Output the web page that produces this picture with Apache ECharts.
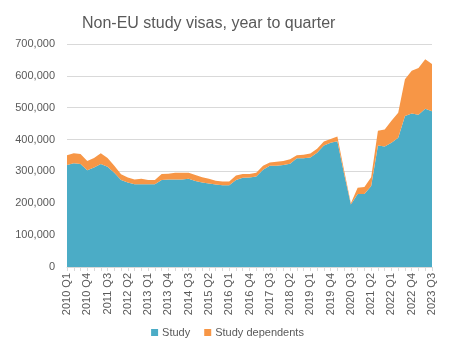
<!DOCTYPE html>
<html>
<head>
<meta charset="utf-8">
<script src="https://cdn.jsdelivr.net/npm/echarts@6/dist/echarts.min.js"></script>
<style>
html,body{margin:0;padding:0;background:#fff;}
#chart_area{width:455px;height:351px;}
</style>
</head>
<body>
<div id="chart_area"></div>
<script>
//季度标签 2010 Q1 - 2023 Q3
var quarters = [];
for (var y = 2010; y <= 2023; y++) {
	for (var q = 1; q <= 4; q++) {
		if (y == 2023 && q > 3) break;
		quarters.push(y + ' Q' + q);
	}
}

var study_vals = [
	320000,326000,323000,304000,312000,323000,315000,296000,273000,265000,
	260000,260000,260000,260000,273000,275000,275000,275000,277000,270000,
	265000,262000,259000,257000,257000,273000,280000,281000,284000,305000,
	318000,318000,320000,324000,341000,341000,344000,359000,381000,390000,
	395000,292000,196000,229000,229000,254000,381000,378000,390000,406000,
	474000,482000,478000,497000,489000
];
var dependent_vals = [
	31000,31000,32000,29000,30000,34000,27000,22000,18000,16000,
	15000,17000,13000,13000,19000,18000,21000,21000,19000,19000,
	17000,15000,12000,11000,11000,14000,12000,11000,12000,13000,
	10000,12000,13000,14000,10000,11000,12000,12000,13000,12000,
	15000,11000,4000,20000,22000,28000,47000,54000,69000,78000,
	115000,134000,147000,155000,148000
];
var series_names = ['Study','Study dependents'];

function creatChart_area(){
	var myChart = echarts.init(document.getElementById("chart_area"));
	var option = {
		animation:false,
		color:['#4bacc6','#f79646'],
		title:{
			text:'Non-EU study visas, year to quarter',
			left:77,
			top:11,
			textStyle:{
				fontFamily:'Liberation Sans',
				fontSize:16,
				fontWeight:'normal',
				color:'#595959'
			}
		},
		legend:{
			bottom:8,
			left:'center',
			itemWidth:7,
			itemHeight:7,
			itemGap:14,
			icon:'rect',
			textStyle:{
				fontFamily:'Liberation Sans',
				fontSize:11,
				color:'#595959',
				padding:[0,0,0,-1]
			},
			data:series_names
		},
		grid:{
			left:67,
			right:23,
			top:44,
			bottom:84,
			containLabel:false
		},
		xAxis:{
			type:'category',
			boundaryGap:false,
			data:quarters,
			axisLine:{lineStyle:{color:'#d9d9d9'}},
			axisTick:{
				show:true,
				interval:0,
				length:4,
				lineStyle:{color:'#d9d9d9'}
			},
			axisLabel:{
				interval:2,
				rotate:90,
				margin:6,
				fontFamily:'Liberation Sans',
				fontSize:11,
				color:'#595959'
			}
		},
		yAxis:{
			type:'value',
			min:0,
			max:700000,
			interval:100000,
			axisLine:{show:false},
			axisTick:{show:false},
			splitLine:{lineStyle:{color:'#d9d9d9'}},
			axisLabel:{
				margin:12,
				fontFamily:'Liberation Sans',
				fontSize:11,
				color:'#595959',
				formatter:function(v){ return v.toLocaleString('en-US'); }
			}
		},
		series:[
			{
				name:series_names[0],
				type:'line',
				stack:'total',
				showSymbol:false,
				lineStyle:{width:0},
				areaStyle:{opacity:1},
				data:study_vals
			},
			{
				name:series_names[1],
				type:'line',
				stack:'total',
				showSymbol:false,
				lineStyle:{width:0},
				areaStyle:{opacity:1},
				data:dependent_vals
			}
		]
	};
	myChart.setOption(option);
}
creatChart_area();
</script>
</body>
</html>
